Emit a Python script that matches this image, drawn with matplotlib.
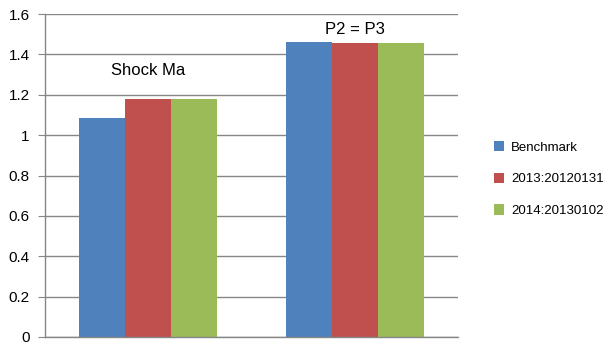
import matplotlib
matplotlib.use("Agg")
import matplotlib.pyplot as plt
import numpy as np

plt.rcParams['font.family'] = ['Liberation Sans', 'DejaVu Sans']

categories = ["Shock Ma", "P2 = P3"]
series_names = ["Benchmark", "2013:20120131", "2014:20130102"]
benchmark = [1.087, 1.463]
v2013 = [1.181, 1.458]
v2014 = [1.178, 1.455]
yticks = [0, 0.2, 0.4, 0.6, 0.8, 1, 1.2, 1.4, 1.6]
ytick_labels = ["0", "0.2", "0.4", "0.6", "0.8", "1", "1.2", "1.4", "1.6"]
label_heights = [1.32, 1.525]

colors = ["#4F81BD", "#C0504D", "#9BBB59"]

fig = plt.figure(figsize=(6.16, 3.5), dpi=100)
ax = fig.add_axes([45/616, 1-337/350, (458-45)/616, (337-14)/350])

x = np.arange(len(categories))
w = 0.223
for i, (vals, name) in enumerate(zip([benchmark, v2013, v2014], series_names)):
    ax.bar(x + (i-1)*w, vals, w, color=colors[i], label=name, zorder=2)

for xi, txt, h in zip(x, categories, label_heights):
    ax.text(xi, h, txt, ha='center', va='center', fontsize=12, color='black')

ax.set_xlim(-0.5, 1.5)
ax.set_ylim(0, 1.6)
ax.set_yticks(yticks)
ax.set_yticklabels(ytick_labels, fontsize=11)
ax.set_xticks([])
ax.yaxis.grid(True, color='#868686', linewidth=1, zorder=0)
ax.set_axisbelow(True)
for s in ['top', 'right']:
    ax.spines[s].set_visible(False)
for s in ['left', 'bottom']:
    ax.spines[s].set_color('#868686')
    ax.spines[s].set_linewidth(1)
ax.tick_params(axis='y', length=5, color='#868686', pad=6)

leg = fig.legend(loc='center left', bbox_to_anchor=(482/616, 1-179/350), frameon=False,
                 fontsize=9.5, handlelength=0.8, handleheight=0.8, labelspacing=1.45,
                 handletextpad=0.5)

fig.savefig("out.png", dpi=100)
